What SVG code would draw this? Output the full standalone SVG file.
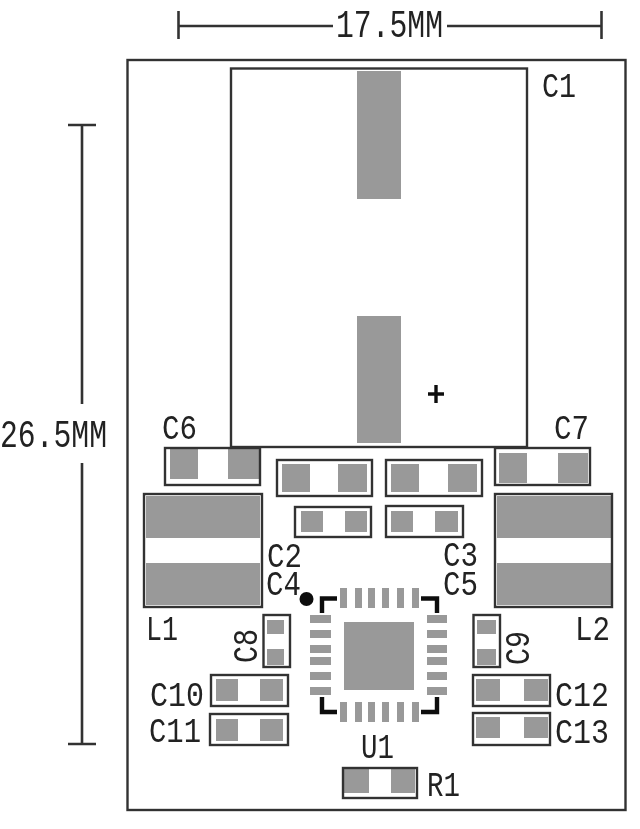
<svg xmlns="http://www.w3.org/2000/svg" width="640" height="829" viewBox="0 0 640 829">
<style>
.o{fill:none;stroke:#333;stroke-width:2.4}
.l{fill:none;stroke:#333;stroke-width:2.6}
.p{fill:#999}
.k{fill:none;stroke:#111;stroke-width:4.4;stroke-linejoin:miter}
.plus{fill:none;stroke:#111;stroke-width:3.4}
text{font-family:"Liberation Mono","DejaVu Sans Mono",monospace;font-size:35px;fill:#222}
.d{font-size:38px}
</style>
<defs><filter id="b" x="-2%" y="-2%" width="104%" height="104%"><feGaussianBlur stdDeviation="0.5"/></filter></defs>
<rect width="640" height="829" fill="#fff"/>
<g filter="url(#b)">
<g id="connectors">
<path class="l" d="M178.500 26H333M447 26H601.500M178.500 11V39M601.500 11V39"/>
<path class="l" d="M82 125V404M82 463V744M68 125H96M68 744H96"/>
</g>
<g id="board"><rect class="o" x="127.500" y="60" width="498" height="750"/></g>
<g id="dim-w"><text class="d" x="336" y="37" textLength="107" lengthAdjust="spacingAndGlyphs">17.5MM</text></g>
<g id="dim-h"><text class="d" x="0" y="447" textLength="107" lengthAdjust="spacingAndGlyphs">26.5MM</text></g>
<g id="C1"><rect class="p" x="357" y="71" width="44" height="128"/><rect class="p" x="357" y="316" width="44" height="127"/><rect class="o" x="231" y="68.500" width="296" height="378.500"/><path class="plus" d="M428 394H444M436 385V403"/><text x="542" y="97" textLength="34" lengthAdjust="spacingAndGlyphs">C1</text></g>
<g id="C6"><rect class="p" x="170" y="449" width="28" height="30"/><rect class="p" x="228" y="449" width="31" height="30"/><rect class="o" x="165" y="448" width="95" height="37"/><text x="162" y="439" textLength="35" lengthAdjust="spacingAndGlyphs">C6</text></g>
<g id="C7"><rect class="p" x="499" y="453" width="28" height="30"/><rect class="p" x="558" y="453" width="30" height="30"/><rect class="o" x="495" y="448" width="95" height="37"/><text x="554" y="439" textLength="35" lengthAdjust="spacingAndGlyphs">C7</text></g>
<g id="C2"><rect class="p" x="282" y="464" width="28" height="28"/><rect class="p" x="338" y="464" width="29" height="28"/><rect class="o" x="277" y="460" width="95" height="36"/><text x="267" y="567" textLength="35" lengthAdjust="spacingAndGlyphs">C2</text></g>
<g id="C3"><rect class="p" x="391" y="464" width="28" height="28"/><rect class="p" x="448" y="464" width="29" height="28"/><rect class="o" x="386" y="460" width="96" height="36"/><text x="443" y="566" textLength="35" lengthAdjust="spacingAndGlyphs">C3</text></g>
<g id="C4"><rect class="p" x="301" y="511" width="22" height="21"/><rect class="p" x="345" y="511" width="22" height="21"/><rect class="o" x="295" y="507" width="76" height="30"/><text x="266" y="595" textLength="35" lengthAdjust="spacingAndGlyphs">C4</text></g>
<g id="C5"><rect class="p" x="391" y="511" width="22" height="21"/><rect class="p" x="435" y="511" width="23" height="21"/><rect class="o" x="386" y="506" width="77" height="31"/><text x="443" y="595" textLength="35" lengthAdjust="spacingAndGlyphs">C5</text></g>
<g id="L1"><rect class="p" x="146" y="496" width="114" height="42"/><rect class="p" x="146" y="563" width="114" height="42"/><rect class="o" x="144" y="494" width="118" height="113"/><text x="146" y="640" textLength="32" lengthAdjust="spacingAndGlyphs">L1</text></g>
<g id="L2"><rect class="p" x="497" y="496" width="114" height="42"/><rect class="p" x="497" y="563" width="114" height="42"/><rect class="o" x="495" y="494" width="117" height="113"/><text x="575" y="640" textLength="35" lengthAdjust="spacingAndGlyphs">L2</text></g>
<g id="C8"><rect class="p" x="267" y="620" width="17" height="14"/><rect class="p" x="267" y="649" width="17" height="16"/><rect class="o" x="263.500" y="615" width="26.500" height="52"/><text transform="translate(257 663) rotate(-90)" textLength="34" lengthAdjust="spacingAndGlyphs">C8</text></g>
<g id="C9"><rect class="p" x="477" y="620" width="19" height="14"/><rect class="p" x="477" y="649" width="19" height="16"/><rect class="o" x="473.500" y="615" width="26.500" height="52"/><text transform="translate(529 665) rotate(-90)" textLength="34" lengthAdjust="spacingAndGlyphs">C9</text></g>
<g id="C10"><rect class="p" x="216" y="679" width="22" height="22"/><rect class="p" x="260" y="679" width="23" height="22"/><rect class="o" x="211" y="675" width="77" height="31"/><text x="150" y="706" textLength="54" lengthAdjust="spacingAndGlyphs">C10</text></g>
<g id="C11"><rect class="p" x="216" y="719" width="22" height="22"/><rect class="p" x="260" y="719" width="23" height="22"/><rect class="o" x="210" y="714" width="78" height="31"/><text x="149" y="742" textLength="52" lengthAdjust="spacingAndGlyphs">C11</text></g>
<g id="C12"><rect class="p" x="476" y="679" width="24" height="22"/><rect class="p" x="524" y="679" width="24" height="22"/><rect class="o" x="473" y="675" width="77" height="31"/><text x="555" y="706" textLength="54" lengthAdjust="spacingAndGlyphs">C12</text></g>
<g id="C13"><rect class="p" x="476" y="717" width="24" height="21"/><rect class="p" x="524" y="717" width="24" height="21"/><rect class="o" x="473" y="713" width="77" height="32"/><text x="555" y="743" textLength="54" lengthAdjust="spacingAndGlyphs">C13</text></g>
<g id="R1"><rect class="p" x="344" y="769" width="25" height="24"/><rect class="p" x="391" y="769" width="24" height="24"/><rect class="o" x="343" y="768" width="74" height="30"/><text x="427" y="796" textLength="33" lengthAdjust="spacingAndGlyphs">R1</text></g>
<g id="U1">
<rect class="p" x="344" y="622" width="70" height="68"/>
<g class="p"><rect x="310" y="615" width="21" height="8"/><rect x="310" y="630" width="21" height="8"/><rect x="310" y="645" width="21" height="8"/><rect x="310" y="657" width="21" height="8"/><rect x="310" y="672" width="21" height="8"/><rect x="310" y="687" width="21" height="8"/><rect x="427" y="615" width="20" height="8"/><rect x="427" y="630" width="20" height="8"/><rect x="427" y="645" width="20" height="8"/><rect x="427" y="657" width="20" height="8"/><rect x="427" y="672" width="20" height="8"/><rect x="427" y="687" width="20" height="8"/>
<rect x="340" y="588" width="7" height="20"/><rect x="355" y="588" width="7" height="20"/><rect x="368" y="588" width="7" height="20"/><rect x="382" y="588" width="7" height="20"/><rect x="397" y="588" width="7" height="20"/><rect x="412" y="588" width="7" height="20"/><rect x="340" y="702" width="7" height="20"/><rect x="355" y="702" width="7" height="20"/><rect x="368" y="702" width="7" height="20"/><rect x="382" y="702" width="7" height="20"/><rect x="397" y="702" width="7" height="20"/><rect x="412" y="702" width="7" height="20"/></g>
<path class="k" d="M322 613V598.500H337M421 598.500H437V613M322 697V712H337M421 712H437V697"/>
<circle cx="306.500" cy="599" r="7" fill="#111"/>
<text x="361" y="758" textLength="33" lengthAdjust="spacingAndGlyphs">U1</text>
</g>
</g>
</svg>
